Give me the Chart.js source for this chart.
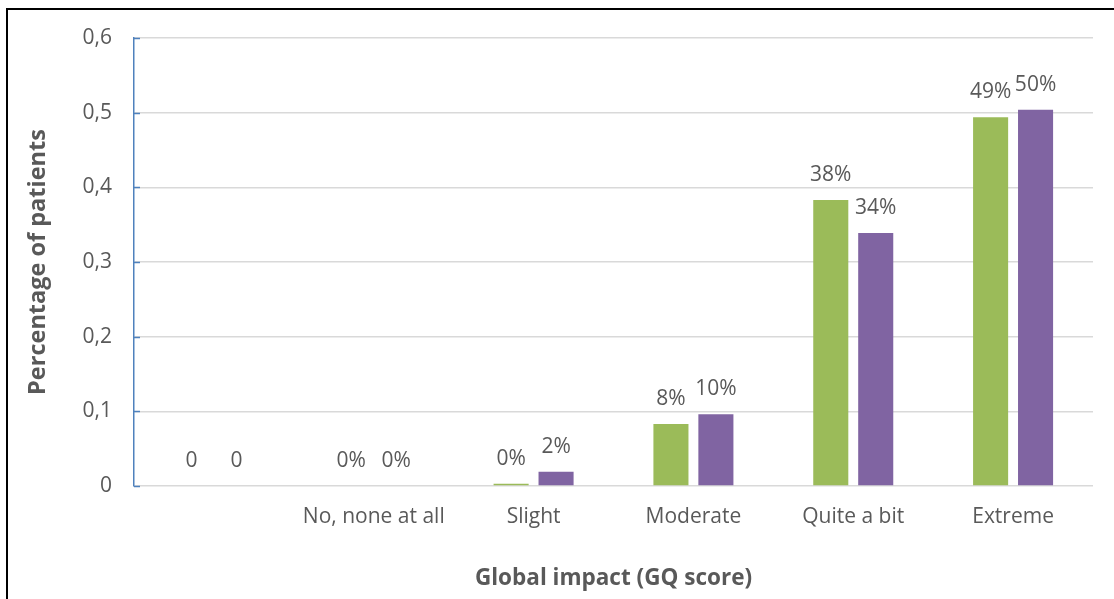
<!DOCTYPE html>
<html>
<head>
<meta charset="utf-8">
<script src="https://cdn.jsdelivr.net/npm/chart.js@4"></script>
<style>
  html, body { margin: 0; padding: 0; background: #fff; }
  #wrap { position: relative; width: 1114px; height: 599px; }
  #frame { position: absolute; left: 6px; top: 8px; right: 0; bottom: 0; border-top: 2px solid #000; border-left: 2px solid #000; pointer-events: none; }
</style>
</head>
<body>
<div id="wrap">
  <canvas id="gq-chart" width="1114" height="599"></canvas>
  <div id="frame"></div>
</div>
<script>
const categories = ['', 'No, none at all', 'Slight', 'Moderate', 'Quite a bit', 'Extreme'];
const greenValues = [0, 0, 0.003, 0.083, 0.383, 0.494];
const purpleValues = [0, 0, 0.019, 0.096, 0.339, 0.504];
const greenLabels = ['0', '0%', '0%', '8%', '38%', '49%'];
const purpleLabels = ['0', '0%', '2%', '10%', '34%', '50%'];
const yTickLabels = ['0', '0,1', '0,2', '0,3', '0,4', '0,5', '0,6'];

const textColor = '#595959';
const fontFamily = '"Open Sans", sans-serif';

// draws the value text above each bar
const barLabels = {
    id: 'barLabels',
    afterDatasetsDraw(chart) {
        const ctx = chart.ctx;
        ctx.save();
        ctx.fillStyle = textColor;
        ctx.font = '21px ' + fontFamily;
        ctx.textAlign = 'center';
        ctx.textBaseline = 'middle';
        chart.data.datasets.forEach((ds, i) => {
            chart.getDatasetMeta(i).data.forEach((bar, j) => {
                ctx.fillText(ds.valueLabels[j], bar.x, bar.y - 25);
            });
        });
        ctx.restore();
    }
};

// small inward tick marks on the value axis
const axisTicks = {
    id: 'axisTicks',
    afterDraw(chart) {
        const ctx = chart.ctx;
        const y = chart.scales.y;
        ctx.save();
        ctx.strokeStyle = '#4F81BD';
        ctx.lineWidth = 1.5;
        y.ticks.forEach((t) => {
            const py = Math.round(y.getPixelForValue(t.value)) + 0.5;
            ctx.beginPath();
            ctx.moveTo(y.right, py);
            ctx.lineTo(y.right + 6, py);
            ctx.stroke();
        });
        ctx.restore();
    }
};

new Chart(document.getElementById('gq-chart').getContext('2d'), {
    type: 'bar',
    data: {
        labels: categories,
        datasets: [
            {
                label: 'Series 1',
                data: greenValues,
                valueLabels: greenLabels,
                backgroundColor: '#9BBB59',
                categoryPercentage: 0.5625,
                barPercentage: 0.78
            },
            {
                label: 'Series 2',
                data: purpleValues,
                valueLabels: purpleLabels,
                backgroundColor: '#8064A2',
                categoryPercentage: 0.5625,
                barPercentage: 0.78
            }
        ]
    },
    options: {
        responsive: false,
        animation: false,
        layout: { padding: { top: 38, right: 21, bottom: 0, left: 0 } },
        plugins: {
            legend: { display: false },
            tooltip: { enabled: false }
        },
        scales: {
            x: {
                grid: { display: false, drawTicks: false },
                border: { display: false },
                ticks: {
                    color: textColor,
                    font: { family: fontFamily, size: 21 },
                    padding: 18,
                    maxRotation: 0
                },
                title: {
                    display: true,
                    text: 'Global impact (GQ score)',
                    color: textColor,
                    font: { family: fontFamily, size: 22.5, weight: 'bold' },
                    padding: { top: 0, bottom: 7 }
                },
                afterFit: (scale) => { scale.height = 113; }
            },
            y: {
                min: 0,
                max: 0.6,
                grid: { color: '#D9D9D9', lineWidth: 1.5, drawTicks: false },
                border: { color: '#4F81BD', width: 1.5 },
                ticks: {
                    stepSize: 0.1,
                    color: textColor,
                    font: { family: fontFamily, size: 21 },
                    padding: 22,
                    callback: (value, index) => yTickLabels[index]
                },
                title: {
                    display: true,
                    text: 'Percentage of patients',
                    color: textColor,
                    font: { family: fontFamily, size: 23.5, weight: 'bold' },
                    padding: { top: 24, bottom: 0 }
                },
                afterFit: (scale) => { scale.width = 134; }
            }
        }
    },
    plugins: [barLabels, axisTicks]
});
</script>
</body>
</html>
